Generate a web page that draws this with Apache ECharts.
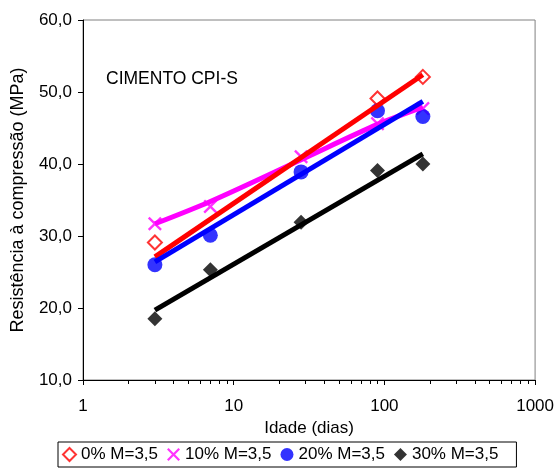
<!DOCTYPE html>
<html>
<head>
<meta charset="utf-8">
<script src="https://cdn.jsdelivr.net/npm/echarts@6/dist/echarts.min.js"></script>
<style>
  html, body { margin: 0; padding: 0; background: #fff; }
  #chart { width: 557px; height: 470px; }
</style>
</head>
<body>
<div id="chart"></div>
<script>
var FONT = 'Liberation Sans, Arial, sans-serif';

// idade (dias)
var dias = [3, 7, 28, 90, 180];

// pontos medidos (MPa)
var cp0 = [29.1, null, null, 49.1, 52.1];
var cp10 = [31.7, 34.1, 41.0, 45.6, 47.7];
var cp20 = [26.0, 30.1, 38.9, 47.4, 46.6];
var cp30 = [18.5, 25.3, 31.9, 39.1, 40.0];

// linhas de tendencia
var tend0 = [[3, 27.1], [180, 52.4]];
var tend10 = [[3, 31.7], [7, 34.8], [28, 40.6], [90, 45.5], [180, 47.9]];
var tend20 = [[3, 26.4], [180, 48.7]];
var tend30 = [[3, 19.7], [180, 41.4]];

var nomes = ['0% M=3,5', '10% M=3,5', '20% M=3,5', '30% M=3,5'];

// marcas menores do eixo log
var minorTicks = [2, 3, 4, 5, 6, 7, 8, 9, 20, 30, 40, 50, 60, 70, 80, 90, 200, 300, 400, 500, 600, 700, 800, 900];

var crossPath = 'path://M0,1.2 L1.2,0 L5,3.8 L8.8,0 L10,1.2 L6.2,5 L10,8.8 L8.8,10 L5,6.2 L1.2,10 L0,8.8 L3.8,5 Z';

function pares(ys) {
  return dias.map(function(d, i) { return [d, ys[i]]; });
}

var myChart = echarts.init(document.getElementById('chart'), null, { renderer: 'canvas' });

var option = {
  backgroundColor: '#fff',
  animation: false,
  textStyle: { fontFamily: FONT },
  title: {
    text: 'CIMENTO CPI-S',
    left: 106, top: 70, padding: 0,
    textStyle: { fontFamily: FONT, fontSize: 17.5, fontWeight: 'normal', color: '#000' }
  },
  grid: {
    left: 83, right: 20, top: 20, bottom: 90,
    show: true, borderColor: '#808080', borderWidth: 1, backgroundColor: '#fff'
  },
  legend: {
    data: [
      { name: nomes[0], icon: 'diamond' },
      { name: nomes[1], icon: crossPath },
      { name: nomes[2], icon: 'circle' },
      { name: nomes[3], icon: 'diamond' }
    ],
    left: 58, top: 442,
    padding: [4, 18, 4, 4],
    itemWidth: 13, itemHeight: 13, itemGap: 9,
    borderColor: '#000', borderWidth: 1,
    textStyle: { fontFamily: FONT, fontSize: 17, color: '#000' }
  },
  xAxis: [
    {
      type: 'log', logBase: 10, min: 1, max: 1000, position: 'bottom',
      name: 'Idade (dias)', nameLocation: 'middle', nameGap: 38,
      nameTextStyle: { fontFamily: FONT, fontSize: 17, color: '#000' },
      axisLine: { lineStyle: { color: '#000', width: 1 } },
      axisTick: { inside: false, length: 5, lineStyle: { color: '#000' } },
      axisLabel: {
        fontFamily: FONT, fontSize: 17, color: '#000', margin: 18,
        formatter: function(v) { return String(Math.round(v)); }
      },
      splitLine: { show: false }
    },
    {
      // marcas menores logaritmicas
      type: 'log', logBase: 10, min: 1, max: 1000, position: 'bottom',
      axisLine: { show: false },
      axisLabel: { show: false },
      axisTick: { show: true, inside: false, length: 4, customValues: minorTicks, lineStyle: { color: '#000' } },
      splitLine: { show: false }
    }
  ],
  yAxis: {
    type: 'value', min: 10, max: 60, interval: 10,
    name: 'Resistência à compressão (MPa)', nameLocation: 'middle', nameGap: 56,
    nameTextStyle: { fontFamily: FONT, fontSize: 18, color: '#000' },
    axisLine: { show: true, lineStyle: { color: '#000', width: 1 } },
    axisTick: { show: true, inside: false, length: 5, lineStyle: { color: '#000' } },
    axisLabel: {
      fontFamily: FONT, fontSize: 17, color: '#000', margin: 11,
      formatter: function(v) { return v.toFixed(1).replace('.', ','); }
    },
    splitLine: { show: false }
  },
  series: [
    {
      name: nomes[0], type: 'scatter', data: pares(cp0), z: 2,
      symbol: 'diamond', symbolSize: 14,
      itemStyle: { color: '#fff', borderColor: '#ff0000', borderWidth: 2 }
    },
    {
      name: nomes[1], type: 'scatter', data: pares(cp10), z: 2,
      symbol: crossPath, symbolSize: 14,
      itemStyle: { color: '#ff00ff' }
    },
    {
      name: nomes[2], type: 'scatter', data: pares(cp20), z: 2,
      symbol: 'circle', symbolSize: 15,
      itemStyle: { color: '#0000ff' }
    },
    {
      name: nomes[3], type: 'scatter', data: pares(cp30), z: 2,
      symbol: 'diamond', symbolSize: 15,
      itemStyle: { color: '#000' }
    },
    {
      name: 't10', type: 'line', data: tend10, showSymbol: false, smooth: 0.3, z: 3,
      lineStyle: { color: '#ff00ff', width: 5 }
    },
    {
      name: 't0', type: 'line', data: tend0, showSymbol: false, z: 3,
      lineStyle: { color: '#ff0000', width: 5 }
    },
    {
      name: 't20', type: 'line', data: tend20, showSymbol: false, z: 3,
      lineStyle: { color: '#0000ff', width: 5 }
    },
    {
      name: 't30', type: 'line', data: tend30, showSymbol: false, z: 3,
      lineStyle: { color: '#000', width: 5 }
    }
  ]
};

myChart.setOption(option);
</script>
</body>
</html>
